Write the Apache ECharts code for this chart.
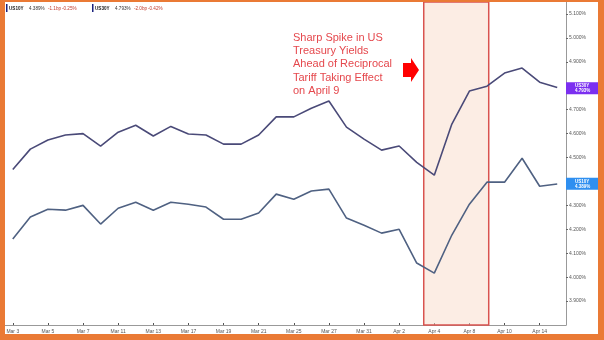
<!DOCTYPE html>
<html>
<head>
<meta charset="utf-8">
<script src="https://cdn.jsdelivr.net/npm/echarts@6/dist/echarts.min.js"></script>
<style>
html,body{margin:0;padding:0;background:#fff;}
#chart{width:604px;height:340px;}
</style>
</head>
<body>
<div id="chart"></div>
<script>
const dates = ['Mar 3','Mar 4','Mar 5','Mar 6','Mar 7','Mar 10','Mar 11','Mar 12','Mar 13','Mar 14',
  'Mar 17','Mar 18','Mar 19','Mar 20','Mar 21','Mar 24','Mar 25','Mar 26','Mar 27','Mar 28','Mar 31',
  'Apr 1','Apr 2','Apr 3','Apr 4','Apr 7','Apr 8','Apr 9','Apr 10','Apr 11','Apr 14','Apr 15'];
const us30y = [4.450,4.535,4.573,4.594,4.600,4.548,4.606,4.635,4.590,4.630,
  4.598,4.594,4.556,4.556,4.594,4.670,4.670,4.706,4.736,4.627,4.577,
  4.531,4.548,4.480,4.426,4.640,4.778,4.798,4.853,4.874,4.815,4.793];
const us10y = [4.159,4.251,4.284,4.280,4.300,4.222,4.288,4.313,4.280,4.313,
  4.305,4.293,4.242,4.242,4.268,4.347,4.326,4.360,4.368,4.247,4.217,
  4.184,4.200,4.059,4.017,4.176,4.305,4.397,4.397,4.497,4.380,4.389];
const seriesNames = ['US10Y','US30Y'];
const lastValues = ['4.389%','4.793%'];
const changeBp = ['-1.1bp','-2.0bp'];
const changePct = ['-0.25%','-0.42%'];
const annotationLines = ['Sharp Spike in US','Treasury Yields','Ahead of Reciprocal','Tariff Taking Effect','on April 9'];

const chart = echarts.init(document.getElementById('chart'));
const orange = '#EA7A35';
const font = 'Liberation Sans, Arial, sans-serif';

function legendItem(i, x0) {
  return [
    {type:'rect', left:x0, top:4, shape:{width:1.5,height:8}, style:{fill:'#1a237e'}},
    {type:'text', left:x0+3, top:6, style:{text:seriesNames[i], fontSize:4.6, fontWeight:'bold', fill:'#222', fontFamily:font}},
    {type:'text', left:x0+23, top:6, style:{text:lastValues[i], fontSize:4.6, fill:'#333', fontFamily:font}},
    {type:'text', left:x0+42, top:6, style:{text:changeBp[i], fontSize:4.6, fill:'#c0392b', fontFamily:font}},
    {type:'text', left:x0+56, top:6, style:{text:changePct[i], fontSize:4.6, fill:'#c0392b', fontFamily:font}}
  ];
}

function endLabel(text, bg) {
  return {show:true, position:'end', distance:0, formatter:text,
    backgroundColor:bg, color:'#fff', fontSize:4.5, lineHeight:5, fontWeight:'bold',
    padding:[1,9], fontFamily:font};
}

const option = {
  backgroundColor:'#fff',
  animation:false,
  grid:{left:4, right:38, top:2, bottom:15, containLabel:false},
  xAxis:[{
    type:'category', data:dates, boundaryGap:true,
    axisLine:{lineStyle:{color:'#999', width:1}},
    axisTick:{show:true, interval:1, alignWithLabel:true, inside:true, length:2, lineStyle:{color:'#555'}},
    axisLabel:{interval:1, fontSize:5, color:'#555', margin:4, fontFamily:font},
    splitLine:{show:false}
  },{
    type:'value', min:-0.5, max:31.5, show:false
  }],
  yAxis:{
    type:'value', position:'right', min:3.8, max:5.15, interval:0.1,
    axisLine:{show:true, onZero:false, lineStyle:{color:'#999', width:1}},
    axisTick:{show:true, length:2, lineStyle:{color:'#666'}},
    axisLabel:{fontSize:5, color:'#555', margin:3, fontFamily:font, showMinLabel:false, showMaxLabel:false,
      formatter:v=>v.toFixed(3)+'%'},
    splitLine:{show:false}
  },
  series:[
    {name:'US30Y', type:'line', data:us30y, symbol:'none', z:3,
      lineStyle:{color:'#4a4a78', width:1.6}, itemStyle:{color:'#4a4a78'},
      markLine:{silent:true, symbol:'none', lineStyle:{color:'rgba(0,0,0,0)', width:0},
        data:[{yAxis:us30y[us30y.length-1]}],
        label:endLabel(seriesNames[1]+'\n'+lastValues[1], '#7B2FF0')}},
    {name:'US10Y', type:'line', data:us10y, symbol:'none', z:3,
      lineStyle:{color:'#4f6182', width:1.6}, itemStyle:{color:'#4f6182'},
      markLine:{silent:true, symbol:'none', lineStyle:{color:'rgba(0,0,0,0)', width:0},
        data:[{yAxis:us10y[us10y.length-1]}],
        label:endLabel(seriesNames[0]+'\n'+lastValues[0], '#2F8FF0')}},
    {name:'shade', type:'line', xAxisIndex:1, data:[], z:10,
      markArea:{silent:true,
        itemStyle:{color:'rgba(249,219,201,0.5)', borderColor:'#d9534f', borderWidth:1.5},
        data:[[{xAxis:23.4},{xAxis:27.1}]]}}
  ],
  graphic:[
    ...legendItem(0, 6),
    ...legendItem(1, 92),
    {type:'text', left:293, top:31, z:20, style:{text:annotationLines.join('\n'), fontSize:11, lineHeight:13.3,
      fill:'#E5484D', fontFamily:font}},
    {type:'polygon', z:20, shape:{points:[[403,63],[411,63],[411,58],[419,70],[411,82],[411,77],[403,77]]},
      style:{fill:'#ff0000'}},
    {type:'rect', left:0, top:0, z:50, shape:{width:5,height:340}, style:{fill:orange}},
    {type:'rect', left:0, top:0, z:50, shape:{width:604,height:2}, style:{fill:orange}},
    {type:'rect', left:598, top:0, z:50, shape:{width:6,height:340}, style:{fill:orange}},
    {type:'rect', left:0, top:334, z:50, shape:{width:604,height:6}, style:{fill:orange}}
  ]
};
chart.setOption(option);
</script>
</body>
</html>
